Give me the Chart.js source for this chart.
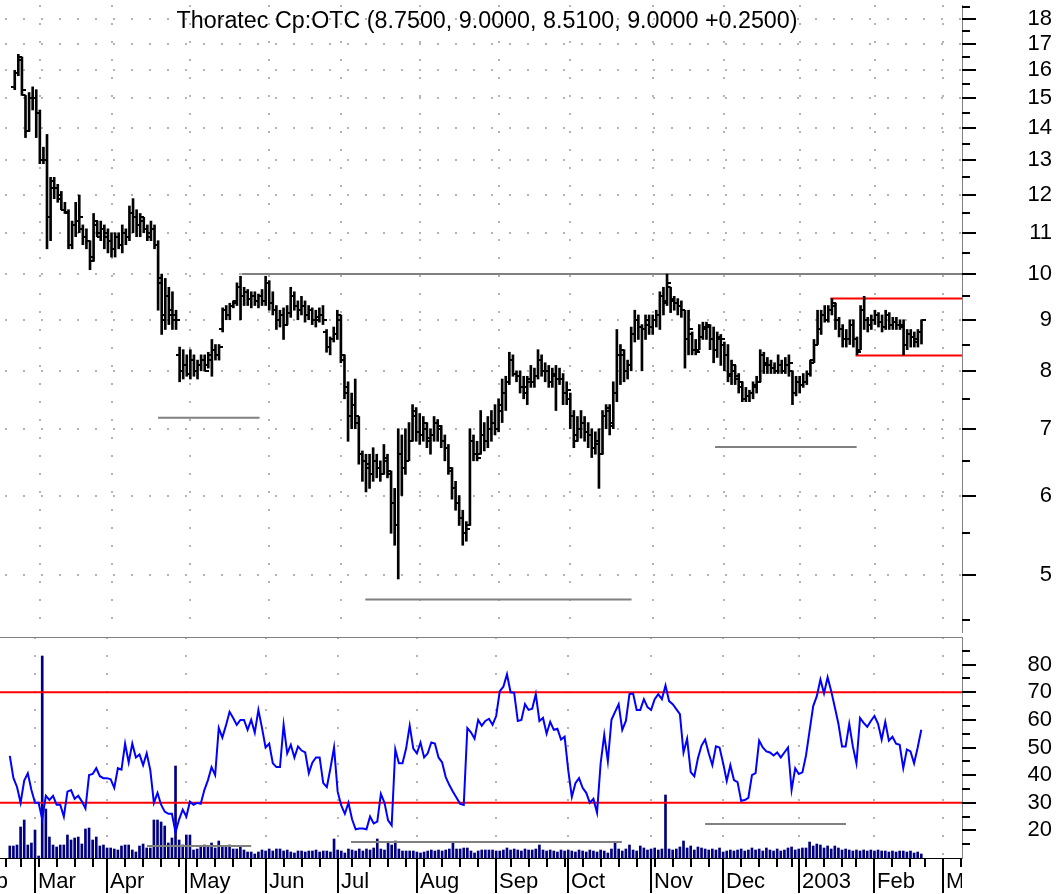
<!DOCTYPE html>
<html>
<head>
<meta charset="utf-8">
<title>Thoratec Cp:OTC</title>
<script src="https://cdn.jsdelivr.net/npm/chart.js"></script>
<style>
  html, body { margin: 0; padding: 0; background: #fff; }
  #wrap { position: relative; width: 1061px; height: 894px; overflow: hidden; }
  #priceChart { position: absolute; left: 0; top: 0; }
  #rsiChart { position: absolute; left: 0; top: 637px; }
</style>
</head>
<body>
<div id="wrap">
  <canvas id="priceChart" width="1061" height="637"></canvas>
  <canvas id="rsiChart" width="1061" height="257"></canvas>
</div>
<script>
// daily bars, 2002-02-20 .. 2003-02-21
const opens = [
  15.4, 15.9, 16.4, 15.1, 13.9, 15.0, 15.0, 14.5, 13.0, 13.0,
  11.4, 12.4, 12.2, 12.0, 11.6, 11.5, 10.7, 11.2, 11.3, 11.1,
  10.9, 10.8, 10.4, 11.2, 10.9, 11.1, 11.0, 10.8, 10.6, 10.9,
  10.7, 11.0, 10.9, 11.5, 11.4, 11.2, 11.3, 11.1, 10.9, 11.1,
  10.7, 9.8, 9.1, 9.5, 9.2, 9.1, 8.3, 8.0, 8.1, 7.95,
  8.2, 8.0, 8.1, 8.2, 8.1, 8.2, 8.4, 8.3, 8.8, 9.2,
  9.1, 9.3, 9.4, 9.7, 9.5, 9.6, 9.45, 9.5, 9.4, 9.5,
  9.4, 9.8, 9.35, 9.2, 9.0, 9.1, 8.9, 9.15, 9.5, 9.3,
  9.2, 9.3, 9.1, 9.2, 9.0, 9.0, 9.1, 8.75, 8.45, 8.6,
  8.7, 9.0, 8.2, 7.6, 7.2, 7.4, 7.1, 6.6, 6.5, 6.4,
  6.3, 6.5, 6.4, 6.3, 6.5, 6.3, 5.9, 5.6, 6.6, 6.4,
  6.5, 6.8, 7.2, 6.95, 6.9, 7.0, 6.8, 6.9, 7.1, 7.0,
  6.8, 6.7, 6.35, 6.1, 5.9, 5.7, 5.5, 5.6, 6.8, 6.6,
  6.6, 6.9, 6.8, 7.0, 7.1, 7.0, 7.3, 7.6, 7.8, 8.2,
  7.95, 7.9, 7.7, 7.6, 7.8, 7.8, 7.9, 8.2, 8.0, 8.0,
  7.8, 7.9, 7.85, 7.85, 7.6, 7.5, 7.2, 6.9, 7.0, 7.1,
  6.95, 6.9, 6.7, 6.8, 6.6, 7.2, 7.3, 7.1, 7.6, 8.3,
  8.3, 8.0, 8.1, 8.7, 9.0, 8.85, 8.8, 8.9, 8.85, 9.0,
  9.1, 9.5, 9.4, 9.7, 9.4, 9.35, 9.3, 9.2, 8.6, 8.7,
  8.4, 8.4, 8.65, 8.8, 8.85, 8.6, 8.4, 8.6, 8.5, 8.3,
  7.9, 8.0, 7.9, 7.7, 7.5, 7.55, 7.6, 7.7, 7.8, 8.3,
  8.1, 8.1, 8.05, 8.0, 8.1, 8.0, 8.1, 8.0, 7.6, 7.8,
  7.75, 7.8, 7.95, 8.2, 8.5, 8.8, 9.1, 9.0, 9.2, 9.3,
  9.0, 8.8, 8.6, 8.6, 8.9, 8.6, 8.4, 9.2, 9.0, 8.9,
  9.0, 9.1, 8.95, 8.85, 9.1, 8.9, 8.95, 8.9, 8.9, 8.5,
  8.7, 8.65, 8.6, 8.75
];
const highs = [
  16.0, 16.6, 16.5, 15.1, 15.2, 15.4, 15.3, 14.6, 13.4, 13.8,
  12.5, 12.5, 12.3, 12.1, 11.8, 11.6, 11.3, 11.8, 12.0, 11.2,
  11.1, 10.8, 11.5, 11.3, 11.3, 11.2, 11.1, 11.0, 11.0, 11.0,
  11.2, 11.1, 11.7, 11.9, 11.6, 11.5, 11.4, 11.2, 11.3, 11.2,
  10.8, 10.0, 9.9, 9.7, 9.6, 9.2, 8.45, 8.4, 8.3, 8.4,
  8.3, 8.2, 8.3, 8.3, 8.35, 8.6, 8.5, 8.5, 9.25, 9.3,
  9.35, 9.4, 9.8, 9.95, 9.7, 9.65, 9.6, 9.6, 9.55, 9.65,
  9.95, 9.85, 9.6, 9.3, 9.2, 9.25, 9.3, 9.7, 9.6, 9.4,
  9.5, 9.4, 9.3, 9.25, 9.2, 9.25, 9.3, 8.8, 8.65, 8.85,
  9.2, 9.1, 8.3, 7.8, 7.6, 7.85, 7.2, 6.65, 6.6, 6.6,
  6.7, 6.6, 6.5, 6.75, 6.6, 6.35, 6.1, 7.0, 6.9, 7.0,
  7.1, 7.4, 7.35, 7.25, 7.2, 7.1, 7.0, 7.2, 7.15, 7.05,
  6.9, 6.75, 6.4, 6.2, 6.0, 5.8, 5.65, 7.0, 6.9, 6.8,
  7.3, 7.1, 7.2, 7.3, 7.4, 7.5, 7.85, 7.9, 8.35, 8.3,
  8.0, 8.0, 7.9, 7.9, 8.1, 8.05, 8.4, 8.3, 8.15, 8.1,
  8.05, 8.1, 8.05, 7.95, 7.8, 7.6, 7.3, 7.2, 7.3, 7.2,
  7.1, 7.0, 6.95, 7.0, 7.3, 7.4, 7.4, 7.8, 8.8, 8.5,
  8.4, 8.2, 8.85, 9.2, 9.1, 8.9, 9.1, 9.1, 9.1, 9.2,
  9.6, 9.7, 10.0, 9.7, 9.5, 9.45, 9.4, 9.2, 9.2, 8.75,
  8.6, 8.9, 8.95, 8.95, 8.9, 8.85, 8.75, 8.7, 8.55, 8.5,
  8.2, 8.1, 7.95, 7.8, 7.7, 7.65, 7.8, 7.9, 8.4, 8.35,
  8.25, 8.2, 8.15, 8.3, 8.2, 8.25, 8.3, 8.0, 7.9, 7.9,
  7.95, 8.0, 8.2, 8.6, 9.2, 9.2, 9.3, 9.3, 9.45, 9.35,
  9.05, 8.9, 8.8, 9.0, 9.0, 8.65, 9.3, 9.5, 9.05, 9.1,
  9.2, 9.15, 9.1, 9.2, 9.15, 9.05, 9.05, 9.0, 9.0, 8.8,
  8.8, 8.75, 8.8, 9.0
];
const lows = [
  15.3, 15.8, 15.1, 13.7, 13.9, 14.6, 13.7, 12.9, 12.9, 10.6,
  10.8, 11.9, 11.8, 11.6, 11.5, 10.6, 10.6, 10.9, 11.0, 10.7,
  10.6, 10.1, 10.3, 10.9, 10.8, 10.6, 10.5, 10.4, 10.4, 10.6,
  10.5, 10.7, 10.8, 11.0, 10.9, 10.9, 11.0, 10.8, 10.8, 10.6,
  9.2, 8.7, 8.8, 8.9, 8.8, 8.8, 7.8, 7.85, 7.9, 7.85,
  7.9, 7.85, 8.0, 8.0, 8.05, 7.9, 8.2, 8.2, 8.75, 9.0,
  9.0, 9.25, 9.3, 9.0, 9.3, 9.3, 9.25, 9.3, 9.25, 9.3,
  9.3, 9.2, 9.1, 8.8, 8.85, 8.6, 8.9, 9.05, 9.2, 9.0,
  9.1, 8.95, 9.0, 8.9, 8.85, 8.95, 8.9, 8.35, 8.3, 8.55,
  8.6, 8.15, 7.5, 6.8, 7.0, 7.0, 6.45, 6.2, 6.05, 6.1,
  6.2, 6.25, 6.2, 6.3, 6.25, 5.5, 5.35, 4.95, 6.0, 6.3,
  6.5, 6.8, 6.8, 6.75, 6.8, 6.7, 6.6, 6.8, 6.8, 6.7,
  6.5, 6.3, 5.95, 5.8, 5.6, 5.35, 5.4, 5.6, 6.5, 6.5,
  6.6, 6.65, 6.7, 6.8, 6.9, 6.95, 7.1, 7.3, 7.75, 7.9,
  7.8, 7.6, 7.5, 7.4, 7.7, 7.7, 7.85, 7.9, 7.8, 7.7,
  7.7, 7.3, 7.75, 7.4, 7.4, 7.0, 6.7, 6.8, 6.85, 6.8,
  6.7, 6.55, 6.6, 6.1, 6.6, 7.0, 6.9, 7.0, 7.45, 7.75,
  7.8, 7.85, 8.0, 8.55, 8.6, 8.0, 8.6, 8.7, 8.7, 8.85,
  8.8, 9.1, 9.3, 9.15, 9.2, 9.1, 9.05, 8.05, 8.3, 8.3,
  8.3, 8.4, 8.6, 8.6, 8.4, 8.15, 8.25, 8.1, 8.0, 7.8,
  7.75, 7.75, 7.6, 7.45, 7.45, 7.45, 7.5, 7.6, 7.8, 7.95,
  7.95, 7.95, 7.95, 7.95, 7.95, 7.95, 7.9, 7.4, 7.55, 7.6,
  7.7, 7.75, 7.9, 8.15, 8.5, 8.7, 8.95, 8.95, 9.1, 8.8,
  8.65, 8.45, 8.45, 8.5, 8.45, 8.3, 8.4, 8.8, 8.75, 8.8,
  8.9, 8.85, 8.75, 8.8, 8.8, 8.8, 8.8, 8.8, 8.3, 8.4,
  8.45, 8.45, 8.45, 8.51
];
const closes = [
  15.9, 16.5, 15.3, 13.9, 15.0, 15.0, 14.5, 13.0, 13.0, 11.4,
  12.2, 12.2, 11.9, 11.6, 11.55, 10.7, 11.2, 11.3, 11.4, 10.9,
  10.8, 10.3, 11.3, 11.0, 11.1, 10.9, 10.8, 10.6, 10.9, 10.7,
  11.0, 10.9, 11.5, 11.4, 11.2, 11.4, 11.1, 11.0, 11.1, 10.7,
  9.9, 9.0, 9.5, 9.1, 9.0, 9.0, 8.0, 8.1, 7.95, 8.2,
  8.0, 8.1, 8.2, 8.0, 8.3, 8.4, 8.3, 8.45, 9.2, 9.1,
  9.3, 9.35, 9.7, 9.5, 9.6, 9.45, 9.5, 9.4, 9.5, 9.4,
  9.8, 9.35, 9.2, 9.0, 9.1, 8.9, 9.15, 9.5, 9.3, 9.2,
  9.3, 9.1, 9.2, 9.0, 9.05, 9.1, 9.0, 8.45, 8.6, 8.7,
  9.1, 8.3, 7.7, 7.2, 7.4, 7.2, 6.6, 6.5, 6.45, 6.3,
  6.5, 6.4, 6.3, 6.55, 6.35, 5.9, 5.6, 6.6, 6.4, 6.5,
  6.8, 7.3, 6.95, 6.9, 7.1, 6.85, 6.9, 7.1, 7.05, 6.8,
  6.7, 6.4, 6.1, 5.9, 5.7, 5.5, 5.55, 6.8, 6.6, 6.55,
  6.9, 6.8, 7.0, 7.1, 7.0, 7.4, 7.6, 7.8, 8.2, 7.95,
  7.9, 7.7, 7.7, 7.85, 7.8, 7.9, 8.2, 8.0, 8.0, 7.8,
  7.95, 7.85, 7.85, 7.6, 7.65, 7.2, 6.8, 7.0, 7.1, 6.95,
  6.9, 6.7, 6.75, 6.6, 7.2, 7.35, 7.05, 7.6, 8.3, 8.4,
  8.0, 8.1, 8.7, 9.0, 8.85, 8.8, 9.0, 8.85, 9.0, 9.1,
  9.5, 9.35, 9.8, 9.45, 9.35, 9.3, 9.2, 8.6, 8.8, 8.4,
  8.35, 8.65, 8.85, 8.9, 8.6, 8.4, 8.65, 8.6, 8.3, 7.95,
  8.1, 7.85, 7.8, 7.5, 7.55, 7.6, 7.75, 7.8, 8.3, 8.15,
  8.1, 8.05, 8.0, 8.1, 8.0, 8.1, 8.15, 7.6, 7.8, 7.75,
  7.8, 7.95, 8.15, 8.5, 8.8, 9.1, 9.0, 9.2, 9.35, 9.0,
  8.8, 8.6, 8.6, 8.9, 8.6, 8.35, 9.2, 9.0, 8.9, 9.0,
  9.1, 8.95, 8.85, 9.1, 8.9, 8.95, 8.9, 8.85, 8.5, 8.7,
  8.65, 8.55, 8.75, 9.0
];
const rsi = [
  47, 39, 35.7, 30, 38, 40.7, 34.6, 30, 30, 24,
  32.5, 31, 32.5, 29.3, 29.3, 25, 34, 34.6, 31.4, 32.5,
  30.5, 27.9, 40, 40.4, 42.5, 39.6, 38.9, 38.9, 38.5, 35.4,
  42.5, 42, 51.4, 44.6, 51.4, 46.4, 47.5, 43.6, 47.9, 41.8,
  30, 33.6, 29.3, 26.8, 26, 26, 19.3, 24, 27.5, 25,
  30.4, 29.3, 30, 29.6, 34.6, 38.2, 42.9, 40, 57.1, 53.6,
  58, 62.9, 60.7, 58.2, 60, 60, 56.4, 60, 55.4, 63.6,
  57.1, 50, 51.4, 44.3, 42.9, 42.9, 58.2, 47.9, 51, 46.4,
  50.4, 48.9, 48.2, 40.7, 44.6, 46.4, 46.4, 37.1, 35.7, 42.5,
  50, 34, 29, 26, 30, 24, 20.4, 20.7, 20.7, 20.4,
  25, 22.5, 23.2, 33.2, 30, 23.6, 21.8, 49.3, 44.3, 44.3,
  49.6, 57.9, 49.6, 47.9, 51.8, 46.4, 47.9, 51.8, 51.4, 46.4,
  44.6, 39.3, 36.4, 34, 31.8, 29.6, 29.2, 57, 55.5, 53.2,
  60, 57.9, 59.6, 60.4, 58.2, 61.4, 70.4, 72, 76.5, 70,
  69.8, 59.6, 60, 65.7, 63.6, 64, 69.3, 59.6, 60.7, 55,
  59.3, 56.4, 56.8, 52.9, 53.9, 41.8, 32.1, 37.1, 38.9, 35.4,
  33.6, 30, 31.4, 26.4, 44.3, 54.6, 45, 60, 62.9, 65.7,
  56.4, 59.6, 69.3, 69.6, 63.6, 63.6, 67.5, 64.6, 63.6, 67.5,
  69.3, 67.5, 72.5, 66.8, 65.7, 63.9, 62.1, 48.2, 53.2, 41.1,
  39.6, 46.1, 50.7, 52.9, 47.9, 43.6, 50.4, 50, 44.3, 37.9,
  43.6, 38.2, 37.5, 30.7, 31, 31.8, 40, 40.7, 52.5, 50,
  48.6, 48.2, 47.1, 48.2, 46.4, 48.2, 50, 34.6, 42.5, 40.4,
  41, 47.1, 56.1, 65, 68.6, 74.6, 69.6, 75.4, 70.4, 64.6,
  58.6, 50.4, 50.4, 58.6, 50.4, 44.3, 60.7, 58.9, 57.5, 59.6,
  61.4, 58.6, 52.9, 59.3, 52.5, 53.9, 51.4, 51, 42.5, 49.3,
  48.6, 44.3, 50, 56.4
];
// thousands of shares
const volume = [
  300, 300, 325, 775, 950, 325, 375, 700, 50, 5050,
  1225, 525, 325, 275, 325, 325, 575, 450, 500, 525,
  350, 725, 750, 450, 525, 300, 325, 250, 250, 225,
  200, 300, 325, 325, 200, 150, 300, 350, 250, 250,
  950, 950, 900, 800, 375, 500, 2300, 450, 325, 575,
  575, 200, 225, 300, 325, 300, 375, 250, 425, 300,
  300, 325, 225, 225, 275, 200, 150, 150, 100, 150,
  200, 175, 225, 175, 225, 225, 175, 200, 150, 125,
  175, 175, 150, 175, 175, 200, 150, 175, 175, 150,
  475, 200, 175, 125, 225, 200, 175, 225, 175, 225,
  200, 250, 475, 225, 200, 400, 325, 425, 225, 175,
  175, 175, 175, 150, 125, 150, 175, 200, 175, 200,
  175, 200, 225, 375, 225, 225, 250, 250, 175, 125,
  175, 200, 200, 200, 200, 175, 175, 200, 250, 200,
  225, 200, 175, 225, 200, 200, 225, 325, 200, 175,
  200, 175, 150, 200, 175, 200, 175, 150, 200, 175,
  150, 200, 175, 150, 200, 175, 125, 225, 375, 225,
  175, 225, 325, 200, 175, 300, 250, 200, 225, 250,
  200, 225, 1575, 225, 200, 225, 275, 425, 250, 300,
  200, 275, 250, 225, 200, 225, 200, 250, 150, 175,
  200, 175, 200, 225, 175, 200, 250, 200, 225, 175,
  250, 200, 175, 225, 175, 200, 250, 275, 200, 225,
  250, 250, 400, 300, 350, 325, 250, 300, 225, 300,
  250, 200, 225, 200, 175, 200, 175, 200, 175, 200,
  175, 200, 175, 175, 150, 175, 150, 175, 175, 150,
  175, 125, 150, 100
];

// hand-drawn levels: [from bar, to bar, value]
const priceLines = [[63.3, 264.3, 10.0], [40, 68.3, 7.18], [97.8, 172.1, 4.72], [195.4, 234.9, 6.71]];
const channelLines = [[227.6, 264.3, 9.45], [234.6, 264.3, 8.29]];
const volumeLines = [[38.1, 67, 300], [94.7, 169.9, 400], [193, 232.1, 850]];
const rsiLevels = [70, 30];

const priceTicks = [4.5, 5, 5.5, 6, 6.5, 7, 7.5, 8, 8.5, 9, 9.5, 10, 10.5, 11, 11.5, 12, 12.5,
  13, 13.5, 14, 14.5, 15, 15.5, 16, 16.5, 17, 17.5, 18, 18.5];
const rsiTicks = [15, 20, 25, 30, 35, 40, 45, 50, 55, 60, 65, 70, 75, 80, 85];
const monthNames = ['Jan', 'Feb', 'Mar', 'Apr', 'May', 'Jun', 'Jul', 'Aug', 'Sep', 'Oct', 'Nov', 'Dec'];
const holidays = ['2002-02-18', '2002-03-29', '2002-05-27', '2002-07-04', '2002-09-02',
  '2002-11-28', '2002-12-25', '2003-01-01', '2003-01-20', '2003-02-17'];

const xMin = -2.72, xMax = 264.3;
const volMax = 5525;

// trading calendar, bar 0 = 2002-02-20
function tradingDays(from, to) {
  const out = [];
  const d = new Date(from + 'T00:00:00Z');
  const end = new Date(to + 'T00:00:00Z');
  while (d <= end) {
    const wd = d.getUTCDay();
    const iso = d.toISOString().slice(0, 10);
    if (wd !== 0 && wd !== 6 && !holidays.includes(iso)) out.push(iso);
    d.setUTCDate(d.getUTCDate() + 1);
  }
  return out;
}
const calendar = tradingDays('2002-02-01', '2003-03-14');
const firstBar = calendar.indexOf('2002-02-20');

const monthStarts = [];
const weekStarts = [];
calendar.forEach((day, k) => {
  const d = new Date(day + 'T00:00:00Z');
  const prev = k > 0 ? new Date(calendar[k - 1] + 'T00:00:00Z') : null;
  if (!prev || prev.getUTCMonth() !== d.getUTCMonth()) {
    const m = d.getUTCMonth();
    monthStarts.push({ pos: k - firstBar, label: m === 0 ? String(d.getUTCFullYear()) : monthNames[m] });
  }
  if (!prev || d.getUTCDay() < prev.getUTCDay() || (d - prev) > 4 * 86400000) weekStarts.push(k - firstBar);
});

Chart.defaults.font.family = '"Liberation Sans", Arial, Helvetica, sans-serif';
Chart.defaults.font.size = 22;
Chart.defaults.color = '#000';

const gridColor = '#b4b4b4';
const dots = [2, 16];
const segment = (a, b, v) => [{ x: a, y: v }, { x: b, y: v }];
const last = closes.length - 1;
const change = closes[last] - closes[last - 1];
const title = 'Thoratec Cp:OTC (' + opens[last].toFixed(4) + ', ' + highs[last].toFixed(4) + ', ' +
  lows[last].toFixed(4) + ', ' + closes[last].toFixed(4) + ' ' + (change >= 0 ? '+' : '') + change.toFixed(4) + ')';

// little open/close ticks used as point images
function tickImage(left) {
  const c = document.createElement('canvas');
  c.width = 8; c.height = 2;
  const g = c.getContext('2d');
  g.fillStyle = '#000';
  g.fillRect(left ? 0 : 4, 0, 4, 2);
  return c;
}

function timeScale(height) {
  return {
    type: 'linear', min: xMin, max: xMax, offset: false, bounds: 'data',
    grid: { color: gridColor, lineWidth: 2, drawTicks: false, offset: false },
    border: { display: false, dash: dots },
    ticks: { display: false },
    afterBuildTicks: s => { s.ticks = monthStarts.map(m => ({ value: m.pos })); },
    afterFit: s => { s.height = height; s.paddingLeft = 0; s.paddingRight = 0; }
  };
}
// right axis: 90px wide, labels end at its right edge, 9px page margin after it
function fitRight(s) { s.width = 90; s.paddingTop = 0; s.paddingBottom = 0; }
const pagePad = { top: 0, left: 0, bottom: 0, right: 9 };

function axisTicks(id) {
  return {
    id: 'axisTicks',
    afterDraw(chart) {
      const s = chart.scales[id];
      const ctx = chart.ctx;
      ctx.save();
      ctx.strokeStyle = '#000';
      ctx.lineWidth = 2;
      s.ticks.forEach(t => {
        const y = Math.round(s.getPixelForValue(t.value));
        ctx.beginPath();
        ctx.moveTo(s.left, y);
        ctx.lineTo(s.left + (t.label ? 14 : 8), y);
        ctx.stroke();
      });
      ctx.restore();
    }
  };
}

const titlePlugin = {
  id: 'titleText',
  afterDatasetsDraw(chart) {
    const ctx = chart.ctx;
    ctx.save();
    ctx.font = '23.3px "Liberation Sans", Arial, sans-serif';
    ctx.fillStyle = '#000';
    ctx.textAlign = 'center';
    ctx.textBaseline = 'alphabetic';
    ctx.fillText(title, 487, 28);
    ctx.restore();
  }
};

const timeAxis = {
  id: 'timeAxis',
  afterDraw(chart) {
    const { ctx, chartArea: a } = chart;
    const xs = chart.scales.x;
    const y0 = a.bottom;
    ctx.save();
    ctx.strokeStyle = '#808080';
    ctx.lineWidth = 1;
    ctx.beginPath();
    ctx.moveTo(0, a.top + 0.5);
    ctx.lineTo(a.right, a.top + 0.5);
    ctx.stroke();
    ctx.beginPath();
    ctx.rect(0, 0, a.right, chart.height);
    ctx.clip();
    ctx.strokeStyle = '#000';
    ctx.beginPath();
    ctx.moveTo(0, y0 + 0.5);
    ctx.lineTo(a.right, y0 + 0.5);
    ctx.stroke();
    ctx.lineWidth = 2;
    weekStarts.forEach(p => {
      const x = Math.round(xs.getPixelForValue(p));
      ctx.beginPath();
      ctx.moveTo(x, y0);
      ctx.lineTo(x, y0 + 9);
      ctx.stroke();
    });
    ctx.font = '22px "Liberation Sans", Arial, sans-serif';
    ctx.fillStyle = '#000';
    ctx.textAlign = 'left';
    ctx.textBaseline = 'alphabetic';
    monthStarts.forEach(m => {
      const x = Math.round(xs.getPixelForValue(m.pos));
      ctx.beginPath();
      ctx.moveTo(x, y0);
      ctx.lineTo(x, y0 + 35);
      ctx.stroke();
      ctx.fillText(m.label, x + 3, y0 + 30);
    });
    ctx.restore();
  }
};

const barIdx = closes.map((c, i) => i);
const lineStyle = (color) => ({ type: 'line', borderColor: color, borderWidth: 2, pointRadius: 0, order: 1 });

new Chart(document.getElementById('priceChart'), {
  type: 'bar',
  data: {
    datasets: [
      {
        type: 'bar',
        data: barIdx.map(i => ({ x: i, y: [lows[i], highs[i]] })),
        backgroundColor: '#000', barThickness: 2, grouped: false, order: 0
      },
      {
        type: 'scatter',
        data: barIdx.map(i => ({ x: i, y: opens[i] })),
        pointStyle: tickImage(true), pointRadius: 2, order: 0
      },
      {
        type: 'scatter',
        data: barIdx.map(i => ({ x: i, y: closes[i] })),
        pointStyle: tickImage(false), pointRadius: 2, order: 0
      },
      ...priceLines.map(l => Object.assign(lineStyle('#808080'), { data: segment(l[0], l[1], l[2]) })),
      ...channelLines.map(l => Object.assign(lineStyle('#ff0000'), { data: segment(l[0], l[1], l[2]) }))
    ]
  },
  options: {
    responsive: false, animation: false, devicePixelRatio: 1, events: [],
    layout: { padding: pagePad },
    plugins: { legend: { display: false }, tooltip: { enabled: false } },
    scales: {
      x: timeScale(0),
      y: {
        type: 'logarithmic', position: 'right', min: 4.38, max: 18.6, bounds: 'data',
        grid: {
          color: c => (c.tick && Number.isInteger(c.tick.value)) ? gridColor : 'rgba(0,0,0,0)',
          lineWidth: 2, drawTicks: false
        },
        border: { display: true, color: '#808080', width: 1, dash: dots },
        ticks: { autoSkip: false, crossAlign: 'far', padding: 20, callback: v => Number.isInteger(v) ? String(v) : '' },
        afterBuildTicks: s => { s.ticks = priceTicks.map(v => ({ value: v })); },
        afterFit: fitRight
      }
    }
  },
  plugins: [axisTicks('y'), titlePlugin]
});

new Chart(document.getElementById('rsiChart'), {
  type: 'bar',
  data: {
    datasets: [
      {
        type: 'line', yAxisID: 'rsi',
        data: barIdx.map(i => ({ x: i, y: rsi[i] })),
        borderColor: '#0000ff', borderWidth: 2, pointRadius: 0, tension: 0, order: 0
      },
      ...rsiLevels.map(v => Object.assign(lineStyle('#ff0000'), { yAxisID: 'rsi', data: segment(xMin, xMax, v) })),
      ...volumeLines.map(l => Object.assign(lineStyle('#808080'), { yAxisID: 'vol', data: segment(l[0], l[1], l[2]) })),
      {
        type: 'bar', yAxisID: 'vol',
        data: barIdx.map(i => ({ x: i, y: volume[i] })),
        backgroundColor: '#000080', barThickness: 2, grouped: false, order: 2
      }
    ]
  },
  options: {
    responsive: false, animation: false, devicePixelRatio: 1, events: [],
    layout: { padding: pagePad },
    plugins: { legend: { display: false }, tooltip: { enabled: false } },
    scales: {
      x: timeScale(36),
      rsi: {
        type: 'linear', position: 'right', min: 10, max: 90, bounds: 'data',
        grid: { display: false, drawTicks: false },
        border: { display: true, color: '#808080', width: 1 },
        ticks: { autoSkip: false, crossAlign: 'far', padding: 20, callback: v => v % 10 === 0 ? String(v) : '' },
        afterBuildTicks: s => { s.ticks = rsiTicks.map(v => ({ value: v })); },
        afterFit: fitRight
      },
      vol: { type: 'linear', display: false, min: 0, max: volMax, bounds: 'data' }
    }
  },
  plugins: [axisTicks('rsi'), timeAxis]
});
</script>
</body>
</html>
